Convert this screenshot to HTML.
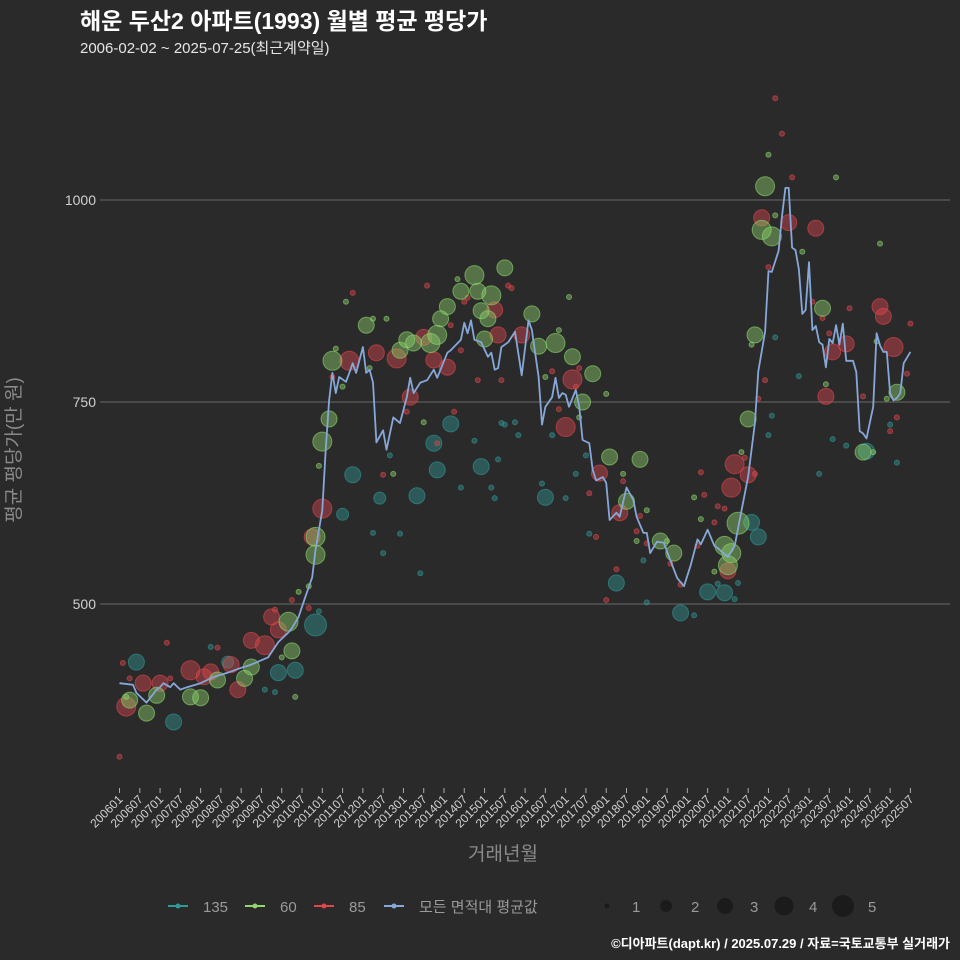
<!DOCTYPE html>
<html><head><meta charset="utf-8">
<style>
html,body{margin:0;padding:0;background:#2b2a2b;}
svg{display:block;font-family:"Liberation Sans","Noto Sans CJK KR",sans-serif;}
</style></head>
<body>
<svg id="chart" width="960" height="960" viewBox="0 0 960 960" xmlns="http://www.w3.org/2000/svg">
<rect width="960" height="960" fill="#2b2a2b"/>
<text x="80" y="29" fill="#ffffff" font-size="23" font-weight="bold">해운 두산2 아파트(1993) 월별 평균 평당가</text>
<text x="80" y="53" fill="#e6e6e6" font-size="15">2006-02-02 ~ 2025-07-25(최근계약일)</text>
<g id="grid"></g>
<g id="yaxis"></g>
<g id="xaxis"></g>
<g id="points"></g>
<g id="avgline"></g>
<text x="20" y="450" transform="rotate(-90 20 450)" text-anchor="middle" fill="#8a8a8a" font-size="19">평균 평당가(만 원)</text>
<text x="503" y="860" text-anchor="middle" fill="#8a8a8a" font-size="19">거래년월</text>
<g id="legend"></g>
<text x="950" y="948" text-anchor="end" fill="#ffffff" font-size="13" font-weight="bold">©디아파트(dapt.kr) / 2025.07.29 / 자료=국토교통부 실거래가</text>
</svg>
<script>
const yTicks = [500, 750, 1000];
const xTickLabels = [];
for (let y = 2006; y <= 2025; y++) { xTickLabels.push(y + "01"); xTickLabels.push(y + "07"); }
// average line: month index from 2006-01, value
const avgMonths = [0,4,5,8,11,12,13,15,16,18,20,24,28,32,36,39,44,47,50,51,53,55,57,58,60,61,62,63,64,65,67,68,69,70,72,73,74,75,76,78,79,81,83,85,86,87,89,91,93,94,97,98,101,102,103,104,105,107,109,110,111,112,113,115,117,119,121,122,124,125,126,128,129,130,131,132,133,135,136,137,139,140,141,143,144,145,147,148,150,152,153,155,156,157,159,161,163,165,167,169,171,172,174,176,177,180,182,184,186,188,189,191,192,193,195,196,197,198,199,200,201,202,203,204,205,206,207,208,209,210,211,212,213,214,215,217,218,219,220,221,223,224,225,226,227,228,229,230,231,232,234];
const avgValues = [402,400,390,378,394,397,402,397,402,394,397,402,410,415,421,425,434,453,465,470,484,509,533,567,616,691,752,786,761,781,775,786,798,786,818,786,790,774,700,715,691,731,724,756,780,761,774,777,790,780,811,814,827,848,835,851,827,824,806,811,790,792,818,824,837,783,851,839,781,722,744,756,780,755,761,759,744,765,744,703,699,666,653,657,650,604,613,608,644,629,608,588,588,563,577,576,554,532,522,548,580,574,592,572,569,558,572,615,658,724,788,837,912,911,937,980,1015,1015,941,938,914,859,864,923,839,844,824,821,793,828,823,845,821,847,801,801,787,714,711,705,744,835,820,812,812,761,752,755,761,798,812];
// 135 series
const s135Months = [5,16,32,47,52,58,69,66,77,27,43,46,75,78,59,98,93,94,107,88,126,147,166,80,113,114,117,118,105,112,101,110,111,125,128,132,135,138,139,83,89,156,174,179,187,189,221,207,215,211,201,194,193,192,228,230,177,170,155,182,183];
const s135Values = [428,354,428,415,418,474,660,611,631,447,394,391,588,563,491,723,699,666,670,634,632,526,489,684,724,722,725,709,702,679,644,644,631,649,709,631,661,684,587,587,538,502,515,514,601,583,689,661,696,704,782,830,733,709,722,675,525,486,554,506,526];
const s135Counts = [3,3,2,3,3,5,3,2,2,1,1,1,1,1,1,3,3,3,3,3,3,3,3,1,1,1,1,1,1,1,1,1,1,1,1,1,1,1,1,1,1,1,3,3,3,3,3,1,1,1,1,1,1,1,1,1,1,1,1,1,1];
// 60 series
const s60Months = [63,73,62,60,58,58,51,50,8,3,21,24,37,39,11,29,67,75,79,74,66,59,81,64,53,56,52,48,2,105,114,101,106,110,97,95,107,109,94,92,87,85,83,108,122,124,129,134,140,137,145,154,150,160,164,100,133,130,126,144,90,136,149,156,153,162,191,190,193,208,188,186,183,181,179,180,230,220,192,212,194,202,225,187,209,224,227,223,184,170,172,176];
const s60Values = [801,845,729,701,583,561,442,478,365,381,385,384,408,422,387,406,874,853,853,792,769,671,661,816,515,522,385,434,385,907,916,887,887,882,868,853,863,853,833,823,823,827,814,828,859,819,823,806,785,750,682,679,627,578,563,902,880,839,781,760,725,731,661,616,578,578,1017,963,955,866,833,729,600,563,572,548,762,688,1056,1028,981,936,946,821,772,825,754,688,688,632,605,540];
const s60Counts = [4,3,3,4,4,4,3,4,3,3,3,3,3,3,3,3,1,1,1,1,1,1,1,1,1,1,1,1,1,4,3,3,3,4,3,3,3,3,4,4,3,3,3,3,3,3,4,3,3,3,3,3,3,3,3,1,1,1,1,1,1,1,1,1,1,1,4,4,4,3,3,3,5,4,4,4,3,3,1,1,1,1,1,1,1,1,1,1,1,1,1,1];
// 85 series
const s85Months = [2,7,12,21,27,25,39,43,45,47,35,33,60,57,68,76,82,69,14,29,1,3,15,51,56,46,78,63,0,90,93,97,86,112,119,111,134,132,142,148,91,115,116,103,102,98,101,106,113,85,99,94,128,136,135,130,149,139,154,141,153,147,144,190,198,206,225,226,229,215,211,209,182,181,186,180,194,196,199,192,205,216,208,210,234,191,189,220,233,230,228,172,173,177,179,176,171,166,156,163,188,185];
const s85Values = [373,402,402,418,416,410,455,449,484,468,394,425,618,583,801,811,804,885,452,446,427,408,408,505,495,493,660,781,311,830,802,793,756,833,833,864,778,719,662,613,894,894,891,879,874,845,814,777,777,738,738,699,788,792,769,741,652,637,609,583,590,543,505,978,972,965,868,856,818,822,812,757,673,644,660,541,1126,1082,1028,917,874,866,854,835,847,777,754,757,785,731,714,663,635,621,618,601,572,524,575,550,661,681];
const s85Counts = [4,3,3,4,3,3,3,4,3,3,3,3,4,3,4,3,4,1,1,1,1,1,1,1,1,1,1,1,1,3,3,3,3,3,3,3,4,4,3,3,1,1,1,1,1,1,1,1,1,1,1,1,1,1,1,1,1,1,1,1,1,1,1,3,3,3,3,3,4,3,3,3,4,4,3,3,1,1,1,1,1,1,1,1,1,1,1,1,1,1,1,1,1,1,1,1,1,1,1,1,1,1];
const sizeLegend = [1,2,3,4,5];

const NS = "http://www.w3.org/2000/svg";
const X0 = 119.5, DX = 3.38;
function xScale(m){ return X0 + m*DX; }
function yScale(v){ return 200 + (1000 - v)*0.808; }
function rScale(n){ return [0,2.5,6,8,9.5,11][n]; }
function mk(tag, attrs, parent){ const e=document.createElementNS(NS,tag); for(const k in attrs) e.setAttribute(k,attrs[k]); parent.appendChild(e); return e; }

const grid=document.getElementById('grid'), yaxis=document.getElementById('yaxis'), xaxis=document.getElementById('xaxis');
yTicks.forEach(v=>{
  const l=mk('line',{x1:100,x2:950,y1:yScale(v),y2:yScale(v),stroke:'#5e5e5e','stroke-width':1.3},grid);
  
  
  const t=mk('text',{x:96,y:yScale(v)+5,'text-anchor':'end',fill:'#d0d0d0','font-size':14},yaxis);
  t.textContent=v;
  
  
});
xTickLabels.forEach((lab,i)=>{
  const x=xScale(i*6);
  const tk=mk('line',{x1:x,x2:x,y1:788,y2:793,stroke:'#aaa','stroke-width':1},xaxis);
  
  
  const t=mk('text',{x:x+4,y:800,'text-anchor':'end',fill:'#d0d0d0','font-size':12,transform:'rotate(-45 '+(x+4)+' 800)'},xaxis);
  t.textContent=lab;
  
  
});

const pts=document.getElementById('points');
function drawSeries(months, values, counts, color, name){
  for(let i=0;i<months.length;i++){
    const c=mk('circle',{cx:xScale(months[i]),cy:yScale(values[i]),r:rScale(counts[i]),fill:color,'fill-opacity':0.42,stroke:color,'stroke-opacity':0.6,'stroke-width':1},pts);
    
    
  }
}
drawSeries(s135Months,s135Values,s135Counts,'#2f9a96','135');
drawSeries(s85Months,s85Values,s85Counts,'#e0474c','85');
drawSeries(s60Months,s60Values,s60Counts,'#8ed86e','60');

let d='';
for(let i=0;i<avgMonths.length;i++){ d+=(i?'L':'M')+xScale(avgMonths[i]).toFixed(1)+','+yScale(avgValues[i]).toFixed(1); }
const line=mk('path',{d:d,fill:'none',stroke:'#86a8d8','stroke-width':1.8,'stroke-linejoin':'round'},document.getElementById('avgline'));



const lg=document.getElementById('legend');
const items=[['135','#2f9a96',168],['60','#8ed86e',245],['85','#e0474c',314],['모든 면적대 평균값','#86a8d8',384]];
items.forEach(it=>{
  const g=mk('g',{},lg);
  
  
  mk('line',{x1:it[2],x2:it[2]+20,y1:906,y2:906,stroke:it[1],'stroke-width':2},g);
  mk('circle',{cx:it[2]+10,cy:906,r:2.5,fill:it[1]},g);
  const t=mk('text',{x:it[2]+35,y:912,fill:'#9a9a9a','font-size':15},g);
  t.textContent=it[0];
});
const sx=[607,666,725,784,843];
sizeLegend.forEach((n,i)=>{
  const g=mk('g',{},lg);
  
  
  mk('circle',{cx:sx[i],cy:906,r:rScale(n),fill:'#1c1b1c'},g);
  const t=mk('text',{x:sx[i]+25,y:912,fill:'#9a9a9a','font-size':15},g);
  t.textContent=n;
});
</script>
</body></html>
